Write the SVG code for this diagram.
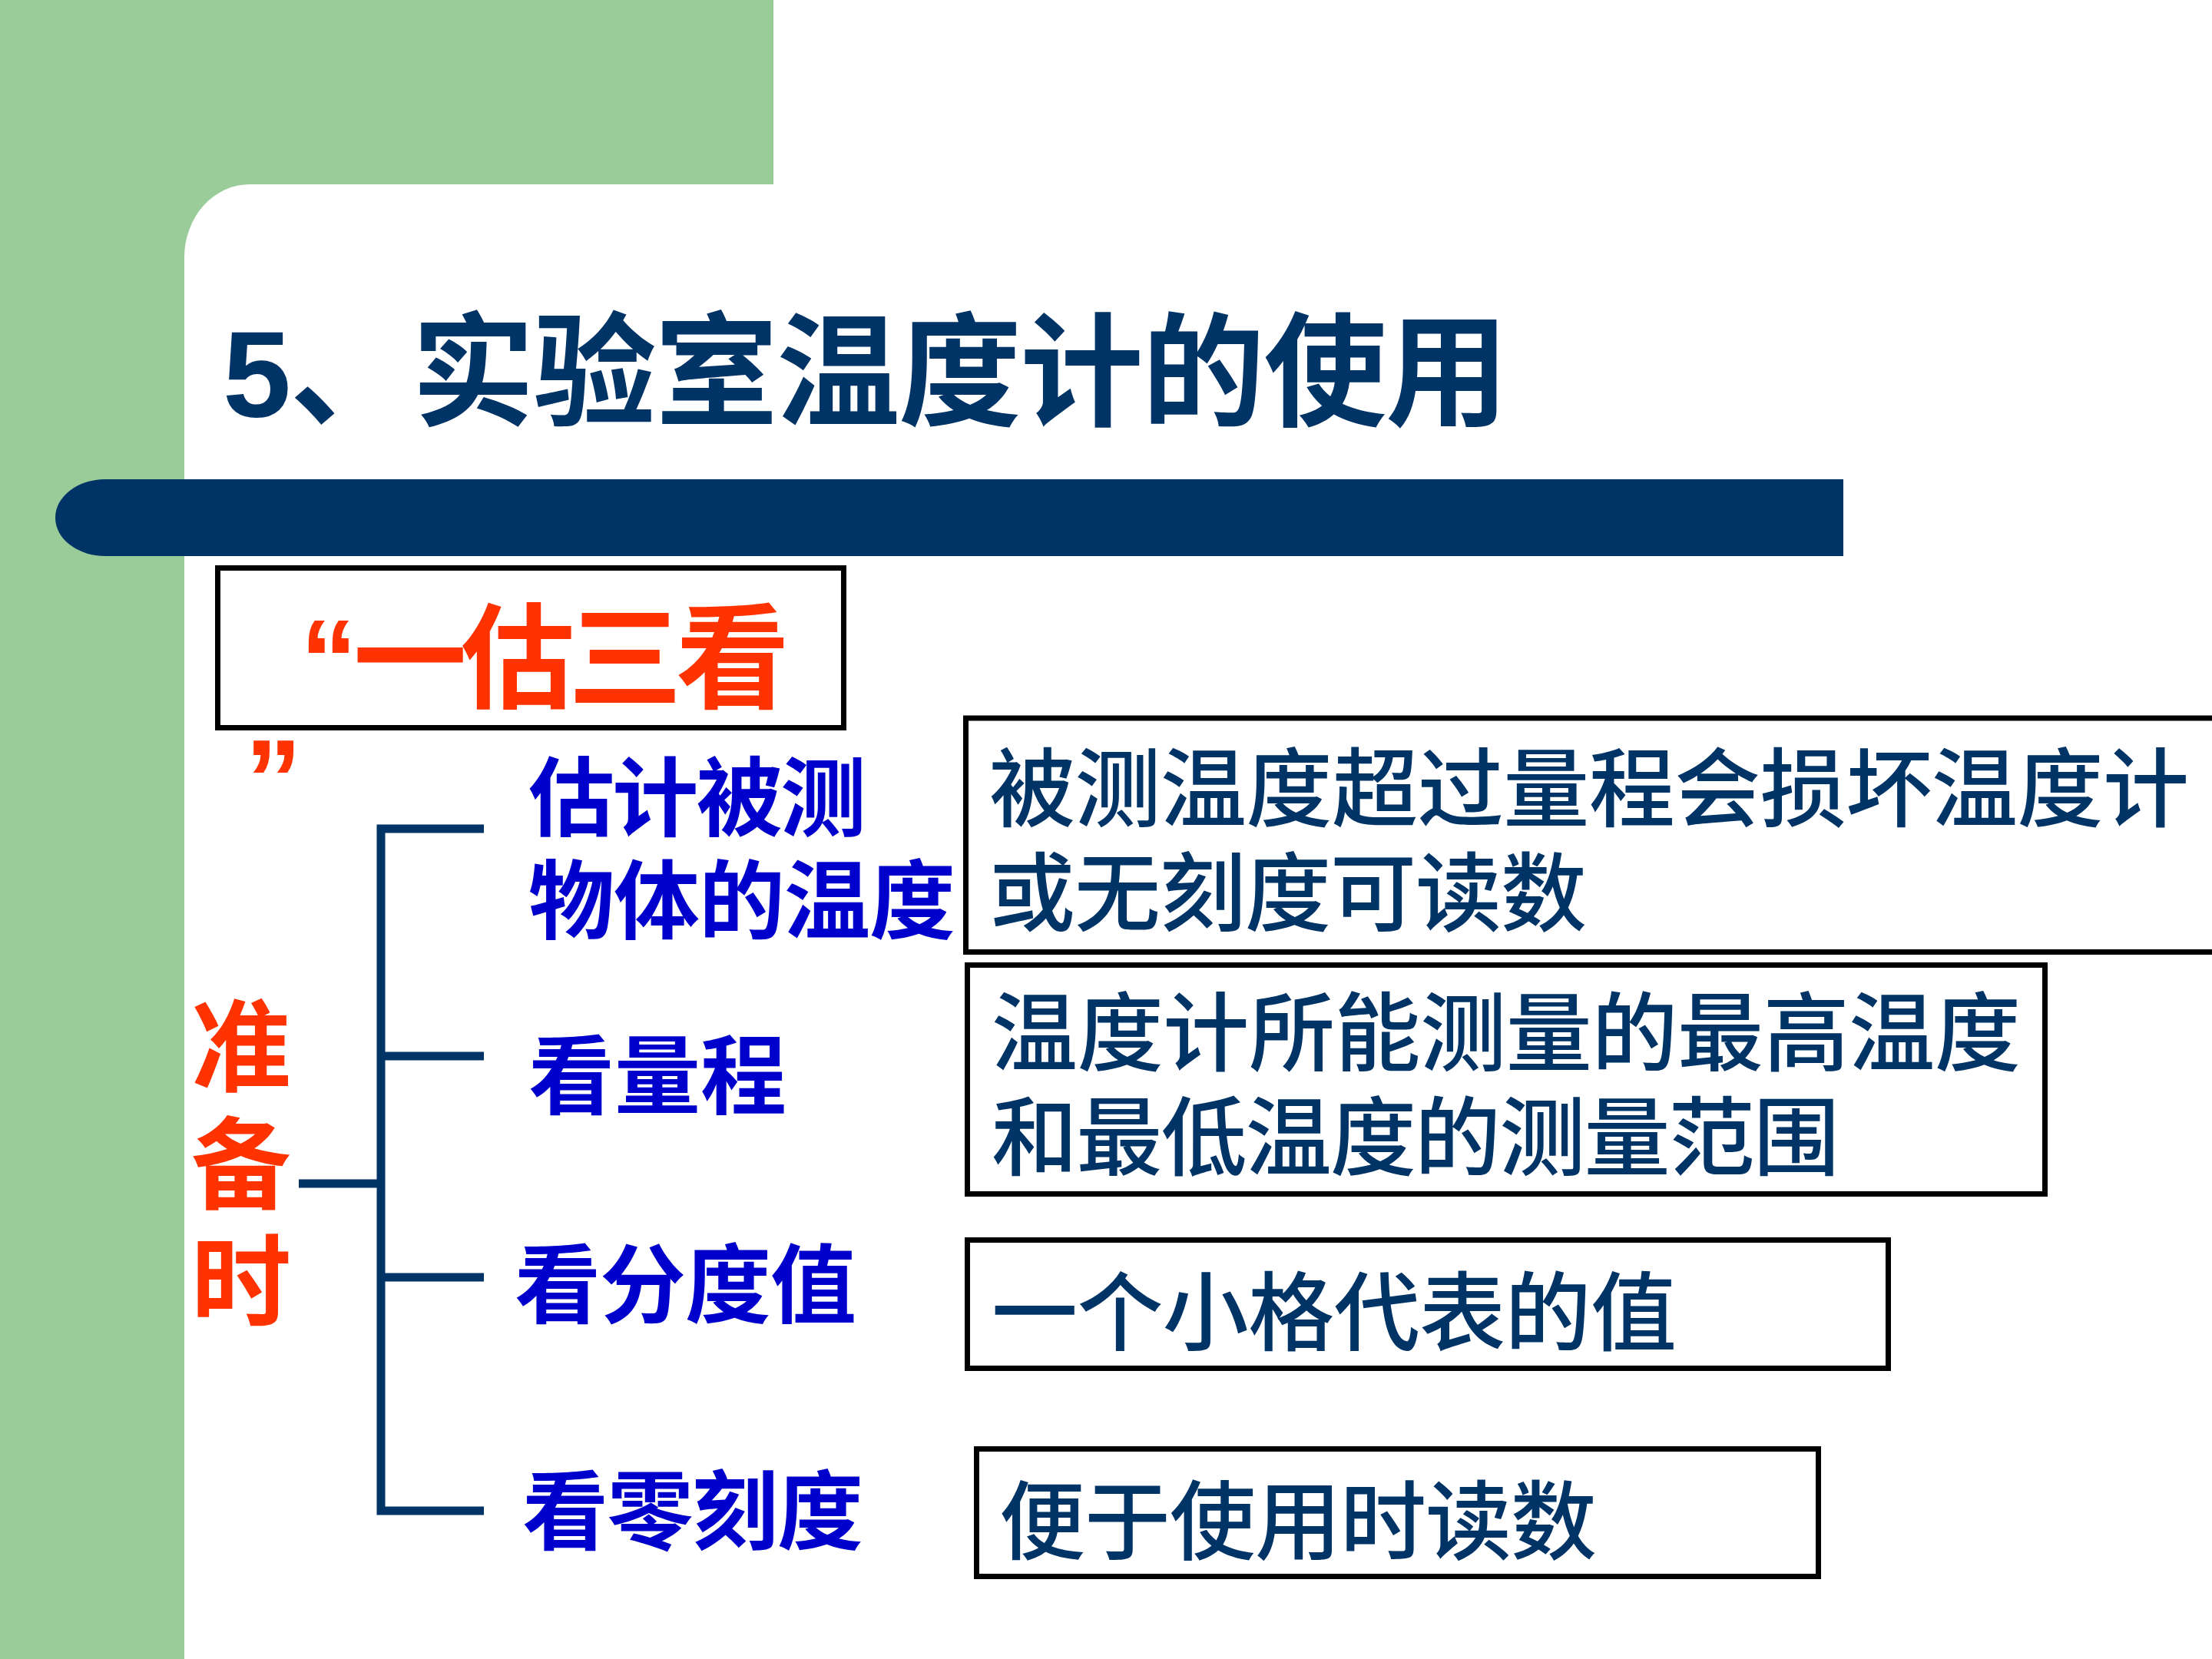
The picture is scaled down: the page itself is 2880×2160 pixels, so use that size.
<svg xmlns="http://www.w3.org/2000/svg" width="2880" height="2160" viewBox="0 0 2880 2160">
<style>
.title{font-family:"Liberation Sans","Noto Sans CJK SC",sans-serif;font-weight:700;fill:#003366}
.red{font-family:"Liberation Sans","Noto Sans CJK SC",sans-serif;font-weight:700;fill:#FF3300}
.blue{font-family:"Noto Sans CJK SC",sans-serif;font-weight:700;fill:#0000CC;font-size:112px}
.navy{font-family:"Noto Sans CJK SC",sans-serif;font-weight:500;fill:#003366;font-size:112px}
.box{fill:#FFFFFF;stroke:#000000;stroke-width:7}
.conn{fill:none;stroke:#003366;stroke-width:11;stroke-linecap:butt;stroke-linejoin:miter}
</style>
<rect x="0" y="0" width="2880" height="2160" fill="#FFFFFF"/>
<g id="background">
<rect x="0" y="0" width="1007" height="240" fill="#99CC99"/>
<rect x="0" y="0" width="240" height="2160" fill="#99CC99"/>
<rect x="230" y="230" width="150" height="150" fill="#99CC99"/>
<rect x="240" y="240" width="2800" height="2100" rx="85" ry="95" fill="#FFFFFF"/>
<path d="M2400,624 H137 A65 50 0 0 0 137,724 H2400 Z" fill="#003366"/>
</g>
<g id="title">
<text class="title" x="290" y="542" font-size="160" textLength="1674" lengthAdjust="spacing">5、实验室温度计的使用</text>
</g>
<g id="node-yigu">
<rect class="box" x="283.5" y="739.5" width="815" height="208" stroke-width="9"/>
<text class="red" font-size="148" y="910"><tspan x="391">“</tspan><tspan x="460" textLength="568" lengthAdjust="spacing">一估三看</tspan></text>
<text class="red" font-size="148" x="319" y="1066">”</text>
</g>
<g id="node-zhunbeishi">
<text class="red" font-size="130" x="249" y="1410">准</text>
<text class="red" font-size="130" x="249" y="1563">备</text>
<text class="red" font-size="130" x="249" y="1716">时</text>
</g>
<g id="connectors">
<path class="conn" d="M389,1541 H496"/>
<path class="conn" d="M630,1079 H496 V1967 H630"/>
<path class="conn" d="M496,1375 H630"/>
<path class="conn" d="M496,1663 H630"/>
</g>
<g id="node-gu">
<text class="blue" x="688" y="1080" textLength="440" lengthAdjust="spacing">估计被测</text>
<text class="blue" x="688" y="1214" textLength="556" lengthAdjust="spacing">物体的温度</text>
</g>
<g id="node-liangcheng">
<text class="blue" x="688" y="1442" textLength="336" lengthAdjust="spacing">看量程</text>
</g>
<g id="node-fenduzhi">
<text class="blue" x="670" y="1714" textLength="445" lengthAdjust="spacing">看分度值</text>
</g>
<g id="node-lingkedu">
<text class="blue" x="680" y="2009" textLength="444" lengthAdjust="spacing">看零刻度</text>
</g>
<g id="box-1">
<rect class="box" x="1257.5" y="935" width="1700" height="304.5"/>
<text class="navy" x="1288" y="1068" textLength="1562" lengthAdjust="spacing">被测温度超过量程会损坏温度计</text>
<text class="navy" x="1288" y="1204" textLength="778" lengthAdjust="spacing">或无刻度可读数</text>
</g>
<g id="box-2">
<rect class="box" x="1259.5" y="1256.5" width="1403" height="298"/>
<text class="navy" x="1291" y="1386" textLength="1340" lengthAdjust="spacing">温度计所能测量的最高温度</text>
<text class="navy" x="1291" y="1522" textLength="1104" lengthAdjust="spacing">和最低温度的测量范围</text>
</g>
<g id="box-3">
<rect class="box" x="1259.5" y="1614.5" width="1199" height="167"/>
<text class="navy" x="1291" y="1750" textLength="892" lengthAdjust="spacing">一个小格代表的值</text>
</g>
<g id="box-4">
<rect class="box" x="1271.5" y="1886.5" width="1096" height="166"/>
<text class="navy" x="1301" y="2022" textLength="778" lengthAdjust="spacing">便于使用时读数</text>
</g>
</svg>
